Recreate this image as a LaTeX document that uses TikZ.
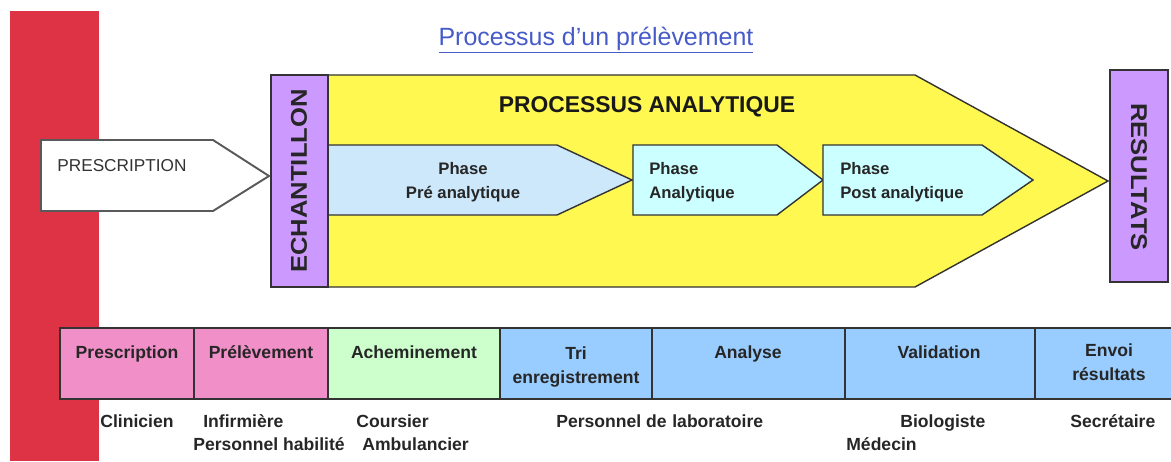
\documentclass[tikz,border=0pt]{standalone}
\usepackage{fontspec}
\setmainfont{Liberation Sans}
\newfontfamily\widesans[FakeStretch=1.12]{Liberation Sans}
\usetikzlibrary{positioning}

\definecolor{redbar}{RGB}{221,51,68}
\definecolor{titleblue}{RGB}{70,90,200}
\definecolor{procyellow}{RGB}{255,248,80}
\definecolor{samplepurple}{RGB}{204,153,255}
\definecolor{preblue}{RGB}{204,232,250}
\definecolor{phasecyan}{RGB}{204,255,255}
\definecolor{cellpink}{RGB}{241,143,201}
\definecolor{cellgreen}{RGB}{204,255,204}
\definecolor{cellblue}{RGB}{153,204,255}

\tikzset{
  outline/.style={draw=black!80,line width=0.8pt},
  cell/.style={outline,line width=0.9pt},
  celltext/.style={font=\bfseries\fontsize{10}{13.6}\selectfont,align=center,text=black!85,inner sep=0pt,anchor=base},
  whotext/.style={font=\bfseries\fontsize{10}{12}\selectfont,text=black!85,inner sep=0pt,anchor=base west},
  phasetext/.style={font=\bfseries\fontsize{9.5}{14}\selectfont,text=black!85,inner sep=0pt},
  sidetext/.style={font=\widesans\bfseries\fontsize{13}{13}\selectfont,text=black!85,inner sep=0pt}
}

\begin{document}
\begin{tikzpicture}[x=0.02cm,y=-0.02cm]
\useasboundingbox (0,0) rectangle (1171,461);

\fill[redbar] (10,11) rectangle (99,461);

\node[anchor=base,text=titleblue,font=\fontsize{14.2}{16}\selectfont,inner sep=0pt] (title) at (596,45) {\underline{Processus d’un prélèvement}};

% prescription arrow
\draw[outline,draw=black!65,fill=white,line width=1.1pt] (41,140)--(213,140)--(269,176)--(213,211)--(41,211)--cycle;
\node[anchor=base west,font=\fontsize{9.8}{12}\selectfont,text=black!80,inner sep=0pt] (prescr) at (57,171) {PRESCRIPTION};

% analytic process
\draw[outline,fill=procyellow] (328,75)--(915,75)--(1108,181)--(915,287)--(328,287)--cycle;
\node[anchor=base,font=\bfseries\fontsize{13}{15}\selectfont,text=black!90,inner sep=0pt] (proc) at (647,112) {PROCESSUS ANALYTIQUE};

\draw[outline,fill=preblue] (328,145)--(557,145)--(632,180)--(557,215)--(328,215)--cycle;
\draw[outline,fill=phasecyan] (633,145)--(777,145)--(823,180)--(777,215)--(633,215)--cycle;
\draw[outline,fill=phasecyan] (823,145)--(982,145)--(1033,180)--(982,215)--(823,215)--cycle;
\node[phasetext,align=center] (pre) at (463,182) {Phase\\Pré analytique};
\node[phasetext,align=left,anchor=west] (ana) at (649,182) {Phase\\Analytique};
\node[phasetext,align=left,anchor=west] (post) at (840,182) {Phase\\Post analytique};

% sample and results
\draw[outline,fill=samplepurple] (271,75) rectangle (328,287);
\node[sidetext,rotate=90] (ech) at (299,181) {ECHANTILLON};
\draw[outline,fill=samplepurple] (1110,70) rectangle (1168,282);
\node[sidetext,rotate=-90] (res) at (1139,177) {RESULTATS};

% steps
\draw[cell,fill=cellpink] (60,328) rectangle (194,399);
\draw[cell,fill=cellpink] (194,328) rectangle (328,399);
\draw[cell,fill=cellgreen] (328,328) rectangle (500,399);
\draw[cell,fill=cellblue] (500,328) rectangle (652,399);
\draw[cell,fill=cellblue] (652,328) rectangle (845,399);
\draw[cell,fill=cellblue] (845,328) rectangle (1035,399);
\draw[cell,fill=cellblue] (1035,328) rectangle (1180,399);

\node[celltext] (s1) at (127,358) {Prescription};
\node[celltext] (s2) at (261,358) {Prélèvement};
\node[celltext] (s3) at (414,358) {Acheminement};
\node[celltext] (s4) at (576,383) {Tri\\enregistrement};
\node[celltext] (s5) at (748,358) {Analyse};
\node[celltext] (s6) at (939,358) {Validation};
\node[celltext] (s7) at (1109,380) {Envoi\\résultats};

% who does it
\node[whotext] (w1) at (100,427) {Clinicien};
\node[whotext] (w2) at (203,427) {Infirmière};
\node[whotext] (w2b) at (193,450) {Personnel habilité};
\node[whotext] (w3) at (356,427) {Coursier};
\node[whotext] (w3b) at (362,450) {Ambulancier};
\node[whotext] (w4) at (556,427) {Personnel de};
\node[whotext] (w4b) at (672,427) {laboratoire};
\node[whotext] (w5) at (900,427) {Biologiste};
\node[whotext] (w5b) at (846,450) {Médecin};
\node[whotext] (w6) at (1070,427) {Secrétaire};

\end{tikzpicture}
\end{document}
